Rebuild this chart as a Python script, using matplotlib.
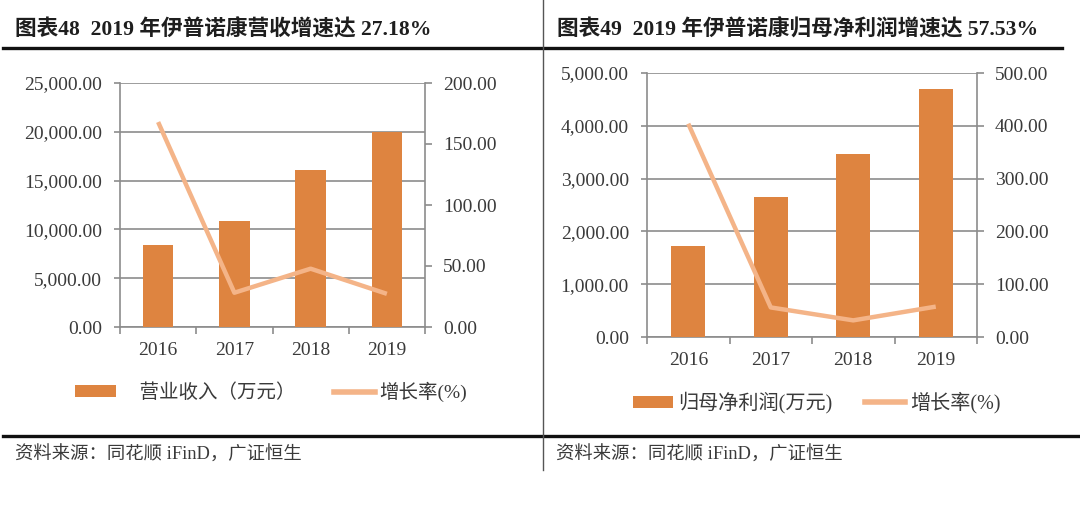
import matplotlib
matplotlib.use("Agg")
import matplotlib.pyplot as plt
from matplotlib.lines import Line2D
from matplotlib.patches import Patch
from matplotlib.ticker import FuncFormatter, FixedLocator

# ---------------- data ----------------
years = ["2016", "2017", "2018", "2019"]
revenue = [8370, 10860, 16050, 19980]          # 营业收入（万元）
revenue_growth = [168.0, 28.1, 47.8, 27.18]     # 增长率(%)
profit = [1732, 2645, 3470, 4704]               # 归母净利润(万元)
profit_growth = [404.0, 56.0, 31.5, 57.53]      # 增长率(%)

title_left = "图表48  2019 年伊普诺康营收增速达 27.18%"
title_right = "图表49  2019 年伊普诺康归母净利润增速达 57.53%"
source_text = "资料来源：同花顺 iFinD，广证恒生"
bar_label_left = "\u3000营业收入（万元）"
bar_label_right = "归母净利润(万元)"
line_label = "增长率(%)"

left_ticks = [0, 5000, 10000, 15000, 20000, 25000]
left_ticks2 = [0, 50, 100, 150, 200]
right_ticks = [0, 1000, 2000, 3000, 4000, 5000]
right_ticks2 = [0, 100, 200, 300, 400, 500]

# ---------------- style ----------------
W, H = 1080, 513
BAR_C = "#DE8440"
LINE_C = "#F4B488"
GRID_C = "#8C8C8C"
TXT_C = "#3A3A3A"
NUM_FONT = ["Liberation Serif", "Noto Sans CJK SC"]
CJK_FONT = ["Liberation Serif", "Noto Sans CJK SC"]
plt.rcParams["font.family"] = CJK_FONT

fig = plt.figure(figsize=(W / 100, H / 100), dpi=100)
fig.patch.set_facecolor("white")


def px_axes(l, t, r, b):
    return fig.add_axes([l / W, 1 - b / H, (r - l) / W, (b - t) / H])


def fx(x):
    return x / W


def fy(y):
    return 1 - y / H


def make_chart(box, vals, growth, yt, yt2, fmt1, fmt2, bar_w, bar_label, leg_center, leg_kw, leg_fs):
    ax = px_axes(*box)
    x = list(range(len(years)))
    ax.bar(x, vals, width=bar_w, color=BAR_C, zorder=3, label=bar_label)
    ax.set_xlim(-0.5, len(years) - 0.5)
    ax.set_ylim(yt[0], yt[-1])
    ax.yaxis.set_major_locator(FixedLocator(yt))
    ax.yaxis.set_major_formatter(FuncFormatter(fmt1))
    ax.grid(axis="y", color=GRID_C, linewidth=1.2, zorder=0)
    ax.set_axisbelow(True)
    for s in ["top", "right"]:
        ax.spines[s].set_visible(False)
    for s in ["left", "bottom"]:
        ax.spines[s].set_color(GRID_C)
        ax.spines[s].set_linewidth(1.2)
    ax.set_xticks(x)
    ax.set_xticklabels(years)
    ax.set_xticks([i - 0.5 for i in range(len(years) + 1)], minor=True)
    ax.tick_params(axis="x", which="major", length=0, pad=11, labelsize=14, labelcolor=TXT_C)
    ax.tick_params(axis="x", which="minor", length=5, width=1.2, color=GRID_C, direction="out")
    ax.tick_params(axis="y", length=4, width=1.2, color=GRID_C, pad=9, labelsize=14, labelcolor=TXT_C)
    for lab in ax.get_xticklabels() + ax.get_yticklabels():
        lab.set_family(NUM_FONT)

    ax2 = ax.twinx()
    ax2.plot(x, growth, color=LINE_C, linewidth=3.2, solid_capstyle="butt", zorder=4, label=line_label)
    ax2.set_ylim(yt2[0], yt2[-1])
    ax2.yaxis.set_major_locator(FixedLocator(yt2))
    ax2.yaxis.set_major_formatter(FuncFormatter(fmt2))
    for s in ["top", "left", "bottom"]:
        ax2.spines[s].set_visible(False)
    ax2.spines["right"].set_color(GRID_C)
    ax2.spines["right"].set_linewidth(1.2)
    ax2.tick_params(axis="y", length=5, width=1.2, color=GRID_C, pad=8, labelsize=14, labelcolor=TXT_C)
    for lab in ax2.get_yticklabels():
        lab.set_family(NUM_FONT)

    handles = [Patch(facecolor=BAR_C, edgecolor="none"),
               Line2D([0], [0], color=LINE_C, linewidth=4)]
    leg = fig.legend(handles, [bar_label, line_label], loc="center",
                     bbox_to_anchor=(fx(leg_center[0]), fy(leg_center[1])),
                     ncol=2, frameon=False, fontsize=leg_fs,
                     handleheight=0.55, borderpad=0, **leg_kw)
    for t in leg.get_texts():
        t.set_color(TXT_C)
        t.set_family(CJK_FONT)
    return ax, ax2


make_chart((120, 83, 425, 327), revenue, revenue_growth, left_ticks, left_ticks2,
           lambda v, p: f"{v:,.2f}", lambda v, p: f"{v:.2f}", 0.40, bar_label_left,
           (271, 392), dict(handlelength=2.1, handletextpad=0.2, columnspacing=2.0), 14)
make_chart((647, 73, 977, 337), profit, profit_growth, right_ticks, right_ticks2,
           lambda v, p: f"{v:,.2f}", lambda v, p: f"{v:.2f}", 0.41, bar_label_right,
           (817, 403), dict(handlelength=2.0, handletextpad=0.25, columnspacing=1.6), 14.5)

# titles
fig.text(fx(15), fy(30), title_left, fontsize=15.6, fontweight="bold", color="#1E1E1E",
         va="center", ha="left", family=CJK_FONT)
fig.text(fx(557), fy(30), title_right, fontsize=15.6, fontweight="bold", color="#1E1E1E",
         va="center", ha="left", family=CJK_FONT)

# source lines
fig.text(fx(15), fy(455), source_text, fontsize=13.2, color=TXT_C, va="center", ha="left",
         family=CJK_FONT)
fig.text(fx(556), fy(455), source_text, fontsize=13.2, color=TXT_C, va="center", ha="left",
         family=CJK_FONT)

# rules
fig.add_artist(Line2D([fx(3), fx(1062)], [fy(48), fy(48)], color="#111111", linewidth=2.4))
fig.add_artist(Line2D([fx(3), fx(1078)], [fy(436), fy(436)], color="#111111", linewidth=2.4))
fig.add_artist(Line2D([fx(543), fx(543)], [fy(0), fy(470)], color="#555555", linewidth=1.0))

fig.savefig("out.png", dpi=100, facecolor="white")
